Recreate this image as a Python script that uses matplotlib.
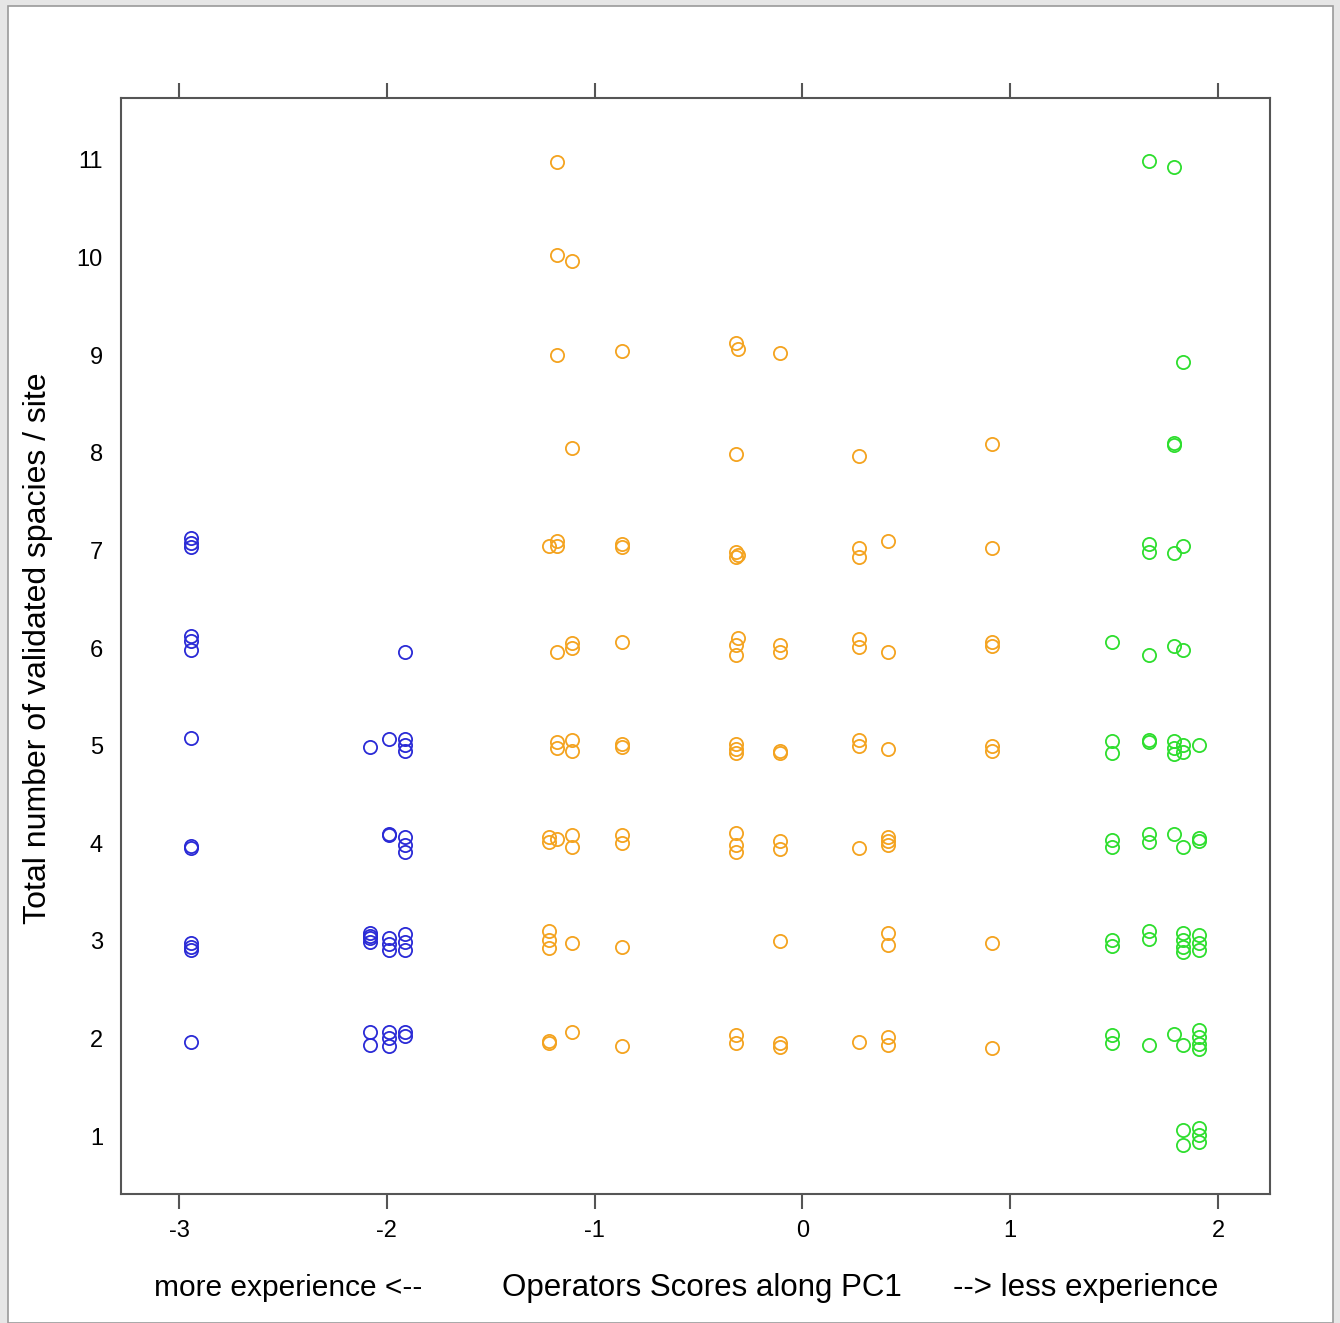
import matplotlib
matplotlib.use("Agg")
import matplotlib.pyplot as plt
from matplotlib.patches import Rectangle

plt.rcParams['font.family'] = ['Liberation Sans', 'DejaVu Sans']

# operator scores along PC1 (x) and jittered species counts (y), per group
blue_x = [-2.94, -2.94, -2.94, -2.94, -2.94, -2.94, -2.94, -2.94, -2.94, -2.94, -2.94, -2.94, -2.94,
          -1.91, -2.08, -1.99, -1.91, -1.91, -1.91,
          -1.99, -1.99, -1.91, -1.91, -1.91,
          -2.08, -2.08, -2.08, -2.08, -1.99, -1.99, -1.99, -1.91, -1.91, -1.91,
          -2.08, -2.08, -1.99, -1.99, -1.99, -1.91, -1.91]
blue_y = [7.13, 7.08, 7.03, 6.12, 6.07, 5.98, 5.08, 3.97, 3.95, 2.98, 2.94, 2.91, 1.96,
          5.96, 4.99, 5.07, 5.07, 5.01, 4.94,
          4.09, 4.08, 4.06, 3.98, 3.91,
          3.08, 3.05, 3.03, 2.99, 3.03, 2.97, 2.91, 3.07, 2.99, 2.91,
          2.07, 1.93, 2.07, 2.00, 1.92, 2.07, 2.02]

orange_x = [-1.18, -1.18, -1.11,
            -1.18, -0.87, -0.32, -0.31, -0.11,
            -1.11, -0.32, 0.27, 0.91,
            -1.22, -1.18, -1.18, -0.87, -0.87, -0.32, -0.32, -0.31, 0.27, 0.27, 0.41, 0.91,
            -1.18, -1.11, -1.11, -0.87, -0.32, -0.32, -0.31, -0.11, -0.11, 0.27, 0.27, 0.41, 0.91, 0.91,
            -1.18, -1.18, -1.11, -1.11, -0.87, -0.87, -0.32, -0.32, -0.32, -0.11, -0.11, 0.27, 0.27,
            0.41, 0.91, 0.91,
            -1.22, -1.22, -1.18, -1.11, -1.11, -0.87, -0.87, -0.32, -0.32, -0.32, -0.11, -0.11, 0.27,
            0.41, 0.41, 0.41,
            -1.22, -1.22, -1.22, -1.11, -0.87, -0.11, 0.41, 0.41, 0.91,
            -1.22, -1.22, -1.11, -0.87, -0.32, -0.32, -0.11, -0.11, 0.27, 0.41, 0.41, 0.91]
orange_y = [10.98, 10.03, 9.96,
            9.00, 9.04, 9.12, 9.06, 9.02,
            8.05, 7.99, 7.97, 8.09,
            7.04, 7.10, 7.05, 7.07, 7.03, 6.98, 6.93, 6.95, 7.02, 6.93, 7.10, 7.02,
            5.96, 6.05, 6.00, 6.06, 5.93, 6.03, 6.10, 6.03, 5.96, 6.09, 6.01, 5.96, 6.06, 6.02,
            5.04, 4.98, 5.06, 4.94, 5.02, 4.99, 5.02, 4.97, 4.92, 4.94, 4.92, 5.06, 5.00,
            4.97, 5.00, 4.94,
            4.06, 4.01, 4.04, 4.08, 3.96, 4.08, 4.00, 4.10, 3.98, 3.91, 4.02, 3.94, 3.95,
            4.06, 4.02, 3.98,
            3.10, 3.01, 2.93, 2.98, 2.94, 3.00, 3.08, 2.96, 2.98,
            1.97, 1.95, 2.07, 1.92, 2.03, 1.95, 1.95, 1.91, 1.96, 2.01, 1.93, 1.90]

green_x = [1.67, 1.79, 1.83, 1.79, 1.79,
           1.67, 1.67, 1.79, 1.83,
           1.49, 1.67, 1.79, 1.83,
           1.49, 1.49, 1.67, 1.67, 1.79, 1.79, 1.79, 1.83, 1.83, 1.91,
           1.49, 1.49, 1.67, 1.67, 1.79, 1.83, 1.91, 1.91,
           1.49, 1.49, 1.67, 1.67, 1.83, 1.83, 1.83, 1.83, 1.91, 1.91, 1.91,
           1.49, 1.49, 1.67, 1.79, 1.83, 1.91, 1.91, 1.91, 1.91,
           1.83, 1.83, 1.91, 1.91, 1.91]
green_y = [10.99, 10.93, 8.93, 8.10, 8.08,
           7.07, 6.98, 6.97, 7.05,
           6.06, 5.93, 6.02, 5.98,
           5.05, 4.92, 5.06, 5.04, 5.05, 4.98, 4.91, 5.01, 4.93, 5.01,
           4.03, 3.96, 4.09, 4.01, 4.09, 3.96, 4.05, 4.02,
           3.01, 2.95, 3.10, 3.02, 3.08, 3.01, 2.94, 2.89, 3.06, 2.98, 2.91,
           2.03, 1.95, 1.93, 2.05, 1.93, 2.09, 2.01, 1.94, 1.89,
           1.06, 0.91, 1.08, 1.01, 0.94]

x_ticks = [-3, -2, -1, 0, 1, 2]
y_ticks = [1, 2, 3, 4, 5, 6, 7, 8, 9, 10, 11]

fig = plt.figure(figsize=(13.4, 13.23), dpi=100, facecolor='#e6e6e6')
fig.patches.append(Rectangle((8 / 1340, 0), 1325 / 1340, 1317 / 1323, transform=fig.transFigure,
                             facecolor='white', edgecolor='#9a9a9a', linewidth=1.2, zorder=-10))

ax = fig.add_axes([121 / 1340, 129 / 1323, 1149 / 1340, 1096 / 1323])
ax.set_facecolor('white')

for xs, ys, c in [(blue_x, blue_y, '#2a2ad6'), (orange_x, orange_y, '#f4a31f'), (green_x, green_y, '#2ede2e')]:
    ax.plot(xs, ys, linestyle='none', marker='o', markersize=9.5, markerfacecolor='none',
            markeredgecolor=c, markeredgewidth=1.3)

ax.set_xlim(-3.279, 2.25)
ax.set_ylim(0.406, 11.635)
ax.set_xticks(x_ticks)
ax.set_yticks(y_ticks)
ax.set_xticklabels([str(v) for v in x_ticks])
ax.set_yticklabels([str(v) for v in y_ticks])
for s in ax.spines.values():
    s.set_color('#555555')
    s.set_linewidth(1.5)
ax.tick_params(axis='x', which='both', top=True, labeltop=False, direction='out', length=11,
               width=1.5, color='#555555', labelsize=17, pad=8)
ax.tick_params(axis='y', length=0, labelsize=17, pad=13)

fig.text(38 / 1340, 1 - 648 / 1323, 'Total number of validated spacies / site', rotation=90,
         ha='center', va='center', fontsize=23)
fig.text(288 / 1340, 1 - 1288 / 1323, 'more experience <--', ha='center', va='center', fontsize=21.5)
fig.text(702 / 1340, 1 - 1288 / 1323, 'Operators Scores along PC1', ha='center', va='center', fontsize=22.5)
fig.text(1086 / 1340, 1 - 1288 / 1323, '--> less experience', ha='center', va='center', fontsize=22.5)

fig.savefig('out.png', dpi=100, facecolor=fig.get_facecolor())
